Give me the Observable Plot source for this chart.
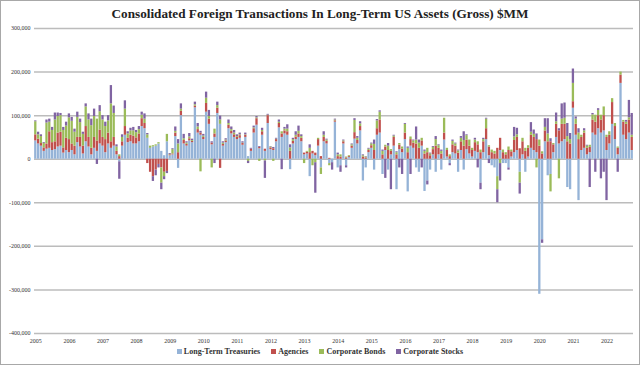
<!DOCTYPE html>
<html>
<head>
<meta charset="utf-8">
<script src="https://cdn.jsdelivr.net/npm/d3@7"></script>
<script src="https://cdn.jsdelivr.net/npm/@observablehq/plot@0.6"></script>
<style>
  html, body { margin: 0; padding: 0; background: #fff; }
  #wrap { position: relative; width: 640px; height: 365px; overflow: hidden; background: #fff; }
  #frame { position: absolute; left: 0; top: 0; width: 640px; height: 365px; box-sizing: border-box; border: 1px solid #a8a8a8; pointer-events: none; }
  #title { position: absolute; left: 0; top: 6px; width: 640px; text-align: center; font: bold 13.2px "Liberation Serif", "Times New Roman", serif; color: #222; }
  #chart { position: absolute; left: 0; top: 0; }
  #legend { position: absolute; left: 0; top: 347px; width: 640px; display: flex; justify-content: center; gap: 11px; font: bold 8px "Liberation Serif", "Times New Roman", serif; color: #333; }
  #legend span.item { display: flex; align-items: center; gap: 2px; }
  #legend i { display: inline-block; width: 5px; height: 5px; }
</style>
</head>
<body>
<div id="wrap">
  <div id="chart"></div>
  <div id="title">Consolidated Foreign Transactions In Long-Term US Assets (Gross) $MM</div>
  <div id="legend"></div>
  <div id="frame"></div>
</div>
<script>
// Monthly categories: Jan 2005 .. Oct 2022
const months = d3.utcMonths(new Date(Date.UTC(2005, 0, 1)), new Date(Date.UTC(2022, 10, 1)));
const yearTicks = months.filter(d => d.getUTCMonth() === 0);
const yTicks = [-400000, -300000, -200000, -100000, 0, 100000, 200000, 300000];

const seriesNames = ["Long-Term Treasuries", "Agencies", "Corporate Bonds", "Corporate Stocks"];
const seriesColors = ["#95b3d7", "#c0504d", "#9bbb59", "#8064a2"];

// Values in $ thousands of millions (x1000 = $MM), one per month
const treasuries = [
  42,35,30,18,23,25,20,22,28,30,14,20,
  15,20,10,38,28,12,40,28,10,25,18,35,
  30,15,35,25,30,10,-6,30,55,38,40,35,
  35,40,75,70,48,25,28,30,35,18,8,40,
  8,10,52,-21,100,35,30,42,38,118,60,55,
  45,108,80,33,50,105,80,30,38,70,58,50,
  45,48,32,50,6,18,60,78,24,55,18,82,
  22,20,40,72,50,58,55,-24,35,45,50,40,
  10,12,-40,12,8,30,-20,40,35,-10,-8,85,
  -20,-15,35,-15,4,25,46,35,65,-50,-20,15,
  25,-25,55,60,-35,20,-25,10,30,-70,22,15,
  45,-75,30,25,-20,-30,30,-74,-50,-25,10,-30,
  10,-25,44,5,-10,15,12,-30,20,-25,22,12,
  5,18,15,-55,15,45,8,-15,-20,-40,20,-10,
  -10,-20,5,15,20,-30,10,-30,5,25,20,15,
  -310,-185,40,-38,-35,15,50,35,40,45,-65,-70,
  117,55,-95,20,25,10,15,60,55,70,60,65,
  20,35,80,45,10,174,55,45,60,20
];
const agencies = [
  14,11,6,8,12,38,18,18,32,32,12,28,
  30,15,20,12,22,18,35,22,15,25,24,32,
  20,30,25,15,20,8,6,10,20,10,15,18,
  14,18,18,12,-10,-30,-40,-25,-12,-20,-30,-28,
  2,2,8,15,10,8,4,5,3,4,8,5,
  5,20,12,4,8,12,-21,4,4,8,6,6,
  5,6,4,5,0,5,10,15,3,8,5,18,
  4,4,5,10,8,7,8,18,6,6,8,8,
  4,4,15,6,6,15,6,10,6,2,0,3,
  6,5,5,3,2,5,15,8,10,5,3,5,
  6,20,15,30,10,8,20,8,20,10,10,8,
  15,15,15,12,35,25,12,12,15,8,12,30,
  15,12,16,15,6,18,18,14,20,30,22,18,
  15,20,18,15,25,25,20,15,12,25,28,15,
  10,20,12,28,30,24,30,18,20,30,30,30,
  30,12,25,40,40,18,30,30,40,35,40,35,
  15,25,45,30,35,15,12,30,30,30,30,35,
  30,20,50,30,15,19,30,35,30,30
];
const corporateBonds = [
  30,10,16,10,48,22,28,50,38,38,40,28,
  50,52,32,46,34,27,45,40,52,48,50,42,
  40,30,28,87,55,10,4,10,40,10,10,12,
  12,10,8,10,8,5,3,3,3,-35,-10,17,
  1,10,4,20,5,4,3,4,2,3,6,-29,
  3,12,6,-20,11,6,10,3,2,4,4,4,
  2,2,1,1,-5,0,2,2,-5,3,-4,1,
  2,-5,1,3,5,4,6,8,4,4,6,4,
  -10,2,10,-15,-8,3,-15,5,3,-5,0,2,
  4,5,2,2,2,3,28,5,6,3,2,3,
  4,14,18,18,8,4,10,4,3,5,4,5,
  20,10,6,5,9,12,6,6,10,4,5,15,
  6,6,34,5,4,8,5,5,8,13,10,14,
  5,6,7,6,5,22,3,6,6,-30,-10,6,
  5,8,4,8,6,-25,8,7,6,7,7,-20,
  14,5,8,18,-40,3,6,-45,12,14,12,10,
  42,12,15,5,5,5,5,12,16,12,11,20,
  5,8,9,7,3,7,4,5,5,5
];
const corporateStocks = [
  2,6,4,2,7,7,7,16,8,5,7,9,
  9,9,7,12,8,5,7,14,15,17,-12,14,
  10,10,12,42,17,5,-40,6,19,5,6,8,
  5,7,7,12,3,0,-11,-13,-8,-15,-7,-5,
  2,2,10,10,12,10,3,8,3,6,8,4,
  4,14,14,3,-10,8,9,3,3,8,6,6,
  4,4,3,4,-5,2,4,3,2,5,-40,2,
  1,3,2,5,-24,4,10,7,3,8,12,4,
  0,0,8,0,-70,0,0,8,2,0,-17,2,
  4,-15,2,-5,0,2,4,4,5,2,1,2,
  2,10,3,3,3,-44,6,-70,2,2,-20,-35,
  2,3,-35,2,30,7,-20,3,-9,2,2,7,
  2,3,0,0,-5,3,2,2,4,20,2,0,
  0,4,-20,-15,3,2,-10,0,0,-30,-40,0,
  0,-5,0,22,15,-25,0,0,0,22,10,13,
  0,-8,20,35,7,0,20,5,35,35,30,14,
  33,5,10,0,5,2,-65,3,-30,4,-45,-30,
  -95,0,0,0,-30,0,0,4,40,50
];

const seriesValues = [treasuries, agencies, corporateBonds, corporateStocks];
const table = [];
months.forEach((m, i) => {
  seriesNames.forEach((name, k) => {
    table.push({month: m, series: name, value: (seriesValues[k][i] ?? 0) * 1000});
  });
});

const fmt = d => (d < 0 ? "-" : "") + d3.format(",")(Math.abs(d));

const chart = Plot.plot({
  width: 640,
  height: 365,
  marginTop: 28,
  marginBottom: 32,
  marginLeft: 34,
  marginRight: 7,
  style: {fontFamily: "'Liberation Serif', 'Times New Roman', serif", fontSize: "6px", color: "#333", background: "transparent"},
  x: {type: "band", domain: months, paddingInner: 0.18, paddingOuter: 0.05, axis: null},
  y: {domain: [-400000, 300000], axis: null},
  color: {domain: seriesNames, range: seriesColors},
  marks: [
    Plot.ruleY(yTicks, {stroke: "#bcbcbc", strokeWidth: 1.5}),
    Plot.barY(table, {x: "month", y: "value", fill: "series"}),
    Plot.text(yTicks, {y: d => d, text: fmt, frameAnchor: "left", textAnchor: "end", dx: -4, fill: "#333"}),
    Plot.text(yearTicks, {x: d => d, text: d => String(d.getUTCFullYear()), frameAnchor: "bottom", dy: 9, fill: "#333"})
  ]
});
document.getElementById("chart").appendChild(chart);

const legend = document.getElementById("legend");
seriesNames.forEach((name, k) => {
  const item = document.createElement("span");
  item.className = "item";
  const sw = document.createElement("i");
  sw.style.background = seriesColors[k];
  item.appendChild(sw);
  item.appendChild(document.createTextNode(name));
  legend.appendChild(item);
});
</script>
</body>
</html>
